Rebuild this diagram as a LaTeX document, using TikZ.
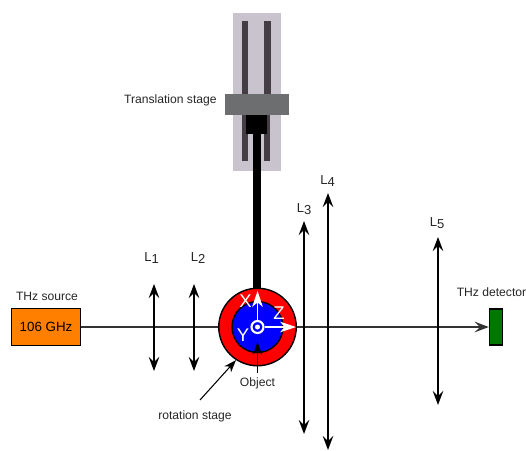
\documentclass[tikz,border=0pt]{standalone}
\usepackage{fontspec}
\setmainfont{Liberation Sans}
\usepackage{tikz}
\usetikzlibrary{arrows.meta,positioning}
\definecolor{stagebg}{RGB}{200,195,205}
\definecolor{railcol}{RGB}{68,62,68}
\definecolor{carriagecol}{RGB}{108,110,112}
\definecolor{sourcecol}{RGB}{255,128,0}
\definecolor{detectorcol}{RGB}{0,120,0}
\newcommand{\lensname}[1]{L\raisebox{-1.6pt}{#1}}
\tikzset{
	lens/.style={thick, {Stealth[length=8pt,width=6pt,inset=3pt]}-{Stealth[length=8pt,width=6pt,inset=3pt]}},
	beam/.style={draw=black!80, line width=1pt},
	axis/.style={draw=white, line width=1.1pt, -{Stealth[length=9pt,width=6pt,inset=2.5pt]}},
	lbl/.style={font=\fontsize{6.9}{9}\selectfont, text=black!85, inner sep=0pt},
	axlbl/.style={font=\fontsize{10.5}{12}\selectfont, text=white, inner sep=0pt},
	lenslbl/.style={font=\fontsize{7.4}{9}\selectfont, text=black!85, inner sep=0pt},
	pointer/.style={semithick, black, -{Stealth[length=7pt,width=5pt,inset=2pt]}}
}
\begin{document}
\begin{tikzpicture}[x=0.02cm,y=-0.02cm]
	\useasboundingbox (0,0) rectangle (526,450);
	% translation stage
	\fill [stagebg] (233,12.5) rectangle (280.5,171);
	\fill [railcol] (241.5,20.5) rectangle (247.5,94);
	\fill [railcol] (264,20.5) rectangle (270.5,94);
	\fill [railcol] (242,115) rectangle (247.5,161);
	\fill [railcol] (264,115) rectangle (270,161);
	\fill [carriagecol] (224.5,94) rectangle (288.5,115);
	\fill [black] (246,115) rectangle (267,134);
	\fill [black] (253,134) rectangle (261,291);
	\node [lbl, left] (stagelbl) at (217,100) {Translation stage};
	% source and detector
	\node [draw=black, thick, fill=sourcecol, minimum width=1.38cm, minimum height=0.74cm, inner sep=0pt, font=\fontsize{7.6}{9}\selectfont] (source) at (46,327) {106 GHz\hspace{2pt}};
	\node [draw=black, thick, fill=detectorcol, minimum width=0.26cm, minimum height=0.72cm, inner sep=0pt] (detector) at (496,327) {};
	\node [lbl] (sourcelbl) at (47,296) {THz source};
	\node [lbl] (detectorlbl) at (491.5,292) {THz detector};
	\draw [beam, -{Stealth[length=8pt,width=6pt,inset=3pt]}] (source) -- (detector);
	% rotation stage
	\node [circle, draw=black, thick, fill=red, minimum size=1.55cm, inner sep=0pt] (rotstage) at (257.5,327) {};
	\node [circle, draw=black, thick, fill=blue, minimum size=1.02cm, inner sep=0pt] (object) at (257.5,327) {};
	\node [circle, draw=white, line width=1.2pt, minimum size=0.24cm, inner sep=0pt] (origin) at (257.5,327) {};
	\fill [white] (origin.center) circle (2.5);
	\coordinate (xtip) at (257.5,291);
	\coordinate (ztip) at (296,327);
	\draw [axis] (origin) -- (xtip);
	\draw [axis] (origin) -- (ztip);
	\node [axlbl] (xlbl) at (245.5,301.5) {X};
	\node [axlbl] (zlbl) at (279,313) {Z};
	\node [axlbl] (ylbl) at (243,335) {Y};
	\node [lbl] (objectlbl) at (257.5,383) {Object};
	\coordinate (objtip) at (257.5,342);
	\draw [pointer] (objectlbl.north) ++(0,-4) -- (objtip);
	\node [lbl] (rotlbl) at (195,416) {rotation stage};
	\coordinate (rotstart) at (200,400);
	\draw [pointer] (rotstart) -- (rotstage.237);
	% lenses
	\coordinate (a1) at (154,284); \coordinate (b1) at (154,371);
	\coordinate (a2) at (194,284); \coordinate (b2) at (194,371);
	\coordinate (a3) at (304,221); \coordinate (b3) at (304,434);
	\coordinate (a4) at (328,193); \coordinate (b4) at (328,450);
	\coordinate (a5) at (438,237); \coordinate (b5) at (438,405);
	\draw [lens] (a1) -- (b1);
	\draw [lens] (a2) -- (b2);
	\draw [lens] (a3) -- (b3);
	\draw [lens] (a4) -- (b4);
	\draw [lens] (a5) -- (b5);
	\node [lenslbl] (l1) at (151.5,258) {\lensname{1}};
	\node [lenslbl] (l2) at (198,258) {\lensname{2}};
	\node [lenslbl] (l3) at (304,209) {\lensname{3}};
	\node [lenslbl] (l4) at (327.5,181) {\lensname{4}};
	\node [lenslbl] (l5) at (437,223) {\lensname{5}};
	\end{tikzpicture}
\end{document}
